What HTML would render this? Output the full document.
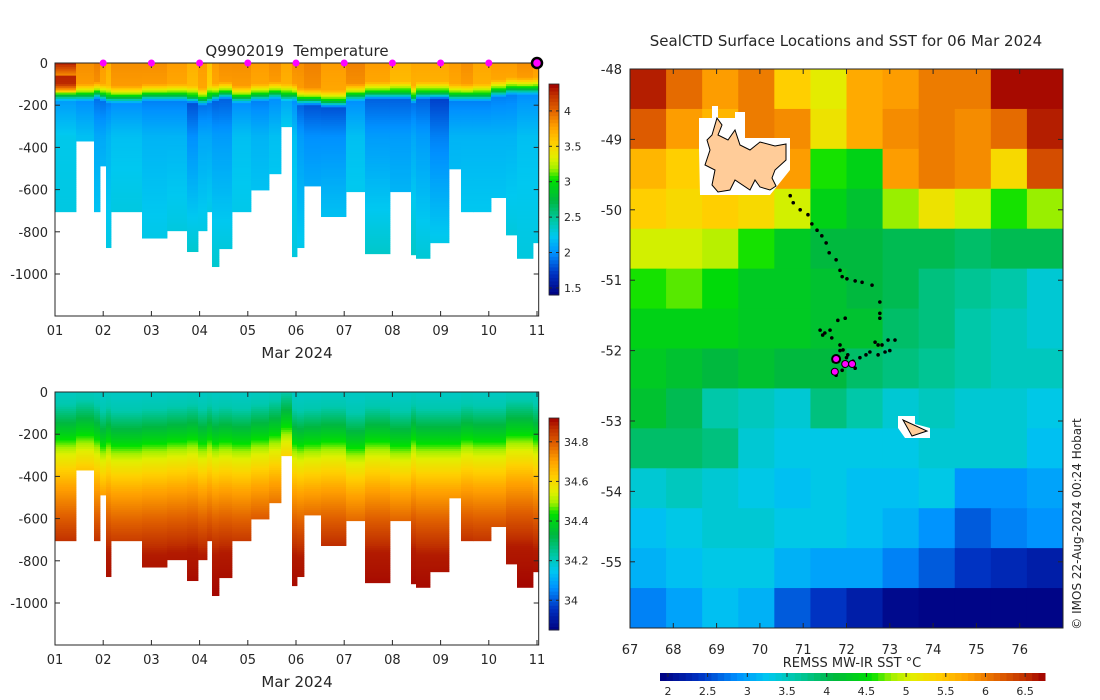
<!DOCTYPE html>
<html><head><meta charset="utf-8"><title>SealCTD</title>
<style>
html,body{margin:0;padding:0;background:#fff;}
svg{display:block;font-family:"DejaVu Sans","Liberation Sans",sans-serif;}
text{fill:#262626;}
</style></head>
<body>
<svg id="root" width="1100" height="700" viewBox="0 0 1100 700" xmlns="http://www.w3.org/2000/svg">
<g id="tempPlot"></g>
<g id="salPlot"></g>
<g id="mapPlot"></g>
<text x="297" y="56" font-size="15" text-anchor="middle">Q9902019&#160; Temperature</text>
<text x="846" y="46" font-size="15" text-anchor="middle">SealCTD Surface Locations and SST for 06 Mar 2024</text>
<text x="297" y="358" font-size="15" text-anchor="middle">Mar 2024</text>
<text x="297" y="687" font-size="15" text-anchor="middle">Mar 2024</text>
<text x="852" y="667" font-size="13" text-anchor="middle">REMSS MW-IR SST °C</text>
<text transform="translate(1081,524) rotate(-90)" font-size="12" text-anchor="middle">© IMOS 22-Aug-2024 00:24 Hobart</text>
</svg>
<script>
const castStart=[1.00,1.436,1.809,1.934,2.058,2.162,2.805,3.324,3.739,3.967,4.154,4.257,4.402,4.672,5.066,5.440,5.689,5.917,6.021,6.166,6.519,7.037,7.432,7.95,8.386,8.49,8.78,9.174,9.423,9.672,10.046,10.357,10.585,10.917];
const castDepth=[705,370,705,488,875,705,830,795,894,795,705,965,880,705,602,525,302,918,875,583,728,610,904,610,909,926,852,502,705,705,638,815,926,852];
const surfT=[4.3,3.85,3.9,3.8,3.7,3.85,3.85,3.8,3.7,3.8,3.6,3.8,3.85,3.85,3.8,3.85,3.75,3.85,3.85,3.9,3.8,3.9,3.8,3.7,3.75,3.75,3.75,3.8,3.85,3.75,3.8,3.8,3.85,3.8];
const mldDepth=[140,140,130,140,150,150,140,140,150,160,150,140,130,150,140,130,140,140,160,160,170,140,130,130,150,130,130,140,140,140,120,110,110,110];
const minT=[2.05,2.0,1.9,1.9,1.95,2.0,1.95,1.95,1.8,1.9,1.9,1.85,1.85,2.0,1.95,2.0,2.1,2.0,1.85,1.8,1.8,2.0,1.85,1.85,1.9,1.85,1.75,1.95,1.95,1.95,1.95,1.95,2.0,2.0];
const deepT=[2.3,2.3,2.3,2.35,2.3,2.35,2.3,2.35,2.4,2.35,2.4,2.35,2.35,2.3,2.3,2.3,2.3,2.3,2.3,2.3,2.35,2.3,2.4,2.3,2.4,2.35,2.35,2.25,2.3,2.3,2.3,2.35,2.3,2.3];
const salShift=[0,-20,0,30,10,30,20,10,0,20,0,20,10,20,0,-20,-60,20,30,20,10,40,10,30,0,20,20,20,0,10,10,-20,-20,0];
const salDepthPts=[0,60,200,300,450,600,750,1000];
const salValPts=[34.20,34.22,34.40,34.55,34.70,34.80,34.89,34.92];
const endDay=11.035;
const dayTicks=[1,2,3,4,5,6,7,8,9,10,11];
const depthTicks=[0,-200,-400,-600,-800,-1000];
const tempCbTicks=[1.5,2,2.5,3,3.5,4];
const salCbTicks=[34,34.2,34.4,34.6,34.8];
const markerDays=[2,3,4,5,6,7,8,9,10];
const sstGrid=[
[6.6,6.1,5.8,6.0,5.4,5.1,5.7,5.8,6.0,6.0,6.7,6.7],
[6.2,5.8,5.6,6.0,5.9,5.2,5.7,5.9,6.0,5.9,6.1,6.6],
[5.6,5.4,5.4,5.6,5.8,4.6,4.4,5.8,6.0,5.9,5.3,6.3],
[5.4,5.3,5.4,5.3,5.0,4.4,4.2,4.8,5.2,5.0,4.6,4.8],
[5.0,5.0,4.9,4.6,4.3,4.1,4.1,4.0,4.0,3.9,4.0,4.0],
[4.6,4.7,4.5,4.3,4.3,4.2,4.1,4.0,3.8,3.7,3.6,3.4],
[4.4,4.4,4.4,4.3,4.3,4.2,4.2,3.9,3.8,3.6,3.5,3.4],
[4.3,4.2,4.1,4.2,4.1,4.1,3.9,3.8,3.7,3.6,3.5,3.5],
[4.2,4.0,3.6,3.5,3.4,3.8,3.6,3.4,3.5,3.4,3.4,3.3],
[3.9,3.9,3.8,3.4,3.3,3.3,3.3,3.3,3.4,3.4,3.4,3.2],
[3.4,3.5,3.4,3.3,3.2,3.3,3.2,3.2,3.3,2.9,2.9,3.0],
[3.2,3.3,3.4,3.4,3.3,3.3,3.2,3.1,2.9,2.6,2.8,2.9],
[3.1,3.2,3.3,3.3,3.1,3.0,3.0,2.8,2.6,2.4,2.3,2.2],
[2.8,3.0,3.2,3.1,2.6,2.4,2.2,2.0,1.95,1.95,1.95,1.95]];
const trackLon=[70.70,70.77,70.93,71.11,71.20,71.32,71.43,71.53,71.60,71.76,71.85,71.90,72.01,72.20,72.36,72.59,72.77,72.77,72.77,72.73,72.45,72.31,71.39,71.50,71.62,71.80,71.97,71.66,71.85,71.92,72.03,72.08,72.20,71.90,71.76,72.66,72.82,72.96,73.12,73.0,72.89,72.73,72.54,71.45,71.7,72.0,72.15,71.95,71.85];
const trackLat=[-49.80,-49.90,-50.00,-50.07,-50.20,-50.29,-50.37,-50.47,-50.61,-50.71,-50.86,-50.95,-50.98,-51.01,-51.03,-51.07,-51.31,-51.47,-51.54,-51.92,-52.06,-52.10,-51.71,-51.75,-51.71,-51.57,-51.54,-51.82,-51.92,-51.99,-52.06,-52.20,-52.25,-52.28,-52.35,-51.88,-51.92,-51.85,-51.85,-52.0,-52.02,-52.06,-52.02,-51.78,-52.15,-52.1,-52.15,-52.22,-52.0];
const recentLon=[71.76,71.97,72.13,71.73];
const recentLat=[-52.12,-52.19,-52.19,-52.30];
const lonTicks=[67,68,69,70,71,72,73,74,75,76];
const latTicks=[-48,-49,-50,-51,-52,-53,-54,-55];
const sstTicks=[2,2.5,3,3.5,4,4.5,5,5.5,6,6.5];

const NS='http://www.w3.org/2000/svg';
function mk(tag,attrs,parent){const e=document.createElementNS(NS,tag);for(const k in attrs)e.setAttribute(k,attrs[k]);parent.appendChild(e);return e;}
const stops=[[0,[0,0,128]],[0.1,[0,48,192]],[0.2,[0,144,255]],[0.28,[0,200,240]],[0.35,[0,200,170]],[0.45,[0,184,64]],[0.55,[0,224,0]],[0.6,[160,240,0]],[0.65,[224,240,0]],[0.72,[255,208,0]],[0.8,[255,160,0]],[0.88,[224,96,0]],[0.95,[192,48,0]],[1,[160,0,0]]];
function cmap(f){f=Math.max(0,Math.min(1,f));for(let i=1;i<stops.length;i++){if(f<=stops[i][0]){const a=stops[i-1],b=stops[i];const t=(f-a[0])/(b[0]-a[0]);const c=a[1].map((v,j)=>Math.round(v+(b[1][j]-v)*t));return `rgb(${c[0]},${c[1]},${c[2]})`;}}return 'rgb(160,0,0)';}
function interp(z,xs,ys){if(z<=xs[0])return ys[0];for(let i=1;i<xs.length;i++){if(z<=xs[i]){return ys[i-1]+(ys[i]-ys[i-1])*(z-xs[i-1])/(xs[i]-xs[i-1]);}}return ys[ys.length-1];}

const xDay=d=>55+(d-1)*48.2;
function section(g,y0,valueAt,vmin,vmax,cbTop,cbBot,cbTicks,cbName,fmt){
  const yD=z=>y0+z*0.211;
  for(let i=0;i<castStart.length;i++){
    const x1=xDay(castStart[i]);const x2=xDay(i+1<castStart.length?castStart[i+1]:endDay);
    const step=10;
    for(let z=0;z<castDepth[i];z+=step){
      const v=valueAt(i,z+step/2);
      const r=mk('rect',{x:x1.toFixed(2),y:yD(z).toFixed(2),width:(x2-x1+0.4).toFixed(2),height:(Math.min(step,castDepth[i]-z)*0.211+0.4).toFixed(2),fill:cmap((v-vmin)/(vmax-vmin))},g);
      
      
    }
  }
  const bottom=y0+253;
  const frame=mk('rect',{x:55,y:y0,width:xDay(endDay)-55,height:bottom-y0,fill:'none',stroke:'#262626','stroke-width':1},g);
  
  dayTicks.forEach(d=>{const x=xDay(d);mk('line',{x1:x,y1:bottom,x2:x,y2:bottom-5,stroke:'#262626'},g);mk('line',{x1:x,y1:y0,x2:x,y2:y0+5,stroke:'#262626'},g);
    const t=mk('text',{x:x,y:bottom+19,'font-size':13,'text-anchor':'middle'},g);t.textContent=String(d).padStart(2,'0');
    });
  depthTicks.forEach(v=>{const y=yD(-v);const xr=xDay(endDay);mk('line',{x1:55,y1:y,x2:60,y2:y,stroke:'#262626'},g);mk('line',{x1:xr,y1:y,x2:xr-5,y2:y,stroke:'#262626'},g);
    const t=mk('text',{x:48,y:y+5,'font-size':13,'text-anchor':'end'},g);t.textContent=v===0?'0':'-'+Math.abs(v);
    });
  const cb=mk('g',{},g);
  const n=60;for(let k=0;k<n;k++){const f=(k+0.5)/n;mk('rect',{x:549,y:cbBot-(k+1)*(cbBot-cbTop)/n,width:10,height:(cbBot-cbTop)/n+0.5,fill:cmap(f)},cb);}
  mk('rect',{x:549,y:cbTop,width:10,height:cbBot-cbTop,fill:'none',stroke:'#262626','stroke-width':0.8},cb);
  cbTicks.forEach(v=>{const y=cbBot-(v-vmin)/(vmax-vmin)*(cbBot-cbTop);mk('line',{x1:549,y1:y,x2:552,y2:y,stroke:'#262626'},cb);mk('line',{x1:559,y1:y,x2:556,y2:y,stroke:'#262626'},cb);
    const t=mk('text',{x:564,y:y+4,'font-size':11},cb);t.textContent=fmt(v);});
}
function tempAt(i,z){const m=mldDepth[i];const s=surfT[i];
  if(i===0&&z<60) return 4.3-(z/60)*0.45;
  return interp(z,[0,m-40,m-10,m+10,m+40,350,1000],[s,s-0.05,s-0.55,2.9,minT[i],minT[i]+0.2,deepT[i]]);}
function salAt(i,z){return interp(z-salShift[i],salDepthPts,salValPts);}
section(document.getElementById('tempPlot'),63,tempAt,1.40,4.38,84,295,tempCbTicks,'temperature-colorbar',v=>String(v));
section(document.getElementById('salPlot'),392,salAt,33.85,34.92,418,630,salCbTicks,'salinity-colorbar',v=>String(v));
const tg=document.getElementById('tempPlot');
markerDays.forEach(d=>{const c=mk('circle',{cx:xDay(d),cy:63,r:3.5,fill:'#ff00ff'},tg);});
{const c=mk('circle',{cx:xDay(11),cy:63,r:5,fill:'#ff00ff',stroke:'#000','stroke-width':2.5},tg);}

const mg=document.getElementById('mapPlot');
const L=630,T=69,R=1063,B=628;
const xLon=lon=>630+(lon-67)*43.3;
const yLat=lat=>69+(-48-lat)*70.4;
const sMin=1.9,sMax=6.75;
const nr=sstGrid.length,nc=sstGrid[0].length;
const cw=(R-L)/nc,ch=(B-T)/nr;
for(let r=0;r<nr;r++)for(let c=0;c<nc;c++){
  const cell=mk('rect',{x:(L+c*cw).toFixed(2),y:(T+r*ch).toFixed(2),width:(cw+0.5).toFixed(2),height:(ch+0.5).toFixed(2),fill:cmap((sstGrid[r][c]-sMin)/(sMax-sMin))},mg);
  
  
}
{const w=mk('polygon',{points:'699,118 712,118 712,106 718,106 718,118 735,118 735,112 745,112 745,138 790,138 790,170 770,195 730,195 700,195 699,150',fill:'#fff'},mg);
const k=mk('polygon',{points:'717,118 722,125 718,135 728,140 735,130 740,145 750,150 760,142 775,146 786,144 786,160 775,170 772,178 776,186 770,190 760,187 755,180 750,190 735,180 730,190 718,192 712,185 715,170 705,165 710,150 707,140 712,135',fill:'#ffcc99',stroke:'#000','stroke-width':1},mg);
const hw=mk('polygon',{points:'898,416 915,416 915,424 930,428 930,438 905,438 898,428',fill:'#fff'},mg);
const h=mk('polygon',{points:'903,420 927,431 912,436',fill:'#ffcc99',stroke:'#000','stroke-width':1},mg);}
trackLon.forEach((lon,i)=>{const d=mk('circle',{cx:xLon(lon),cy:yLat(trackLat[i]),r:1.8,fill:'#000'},mg);});
recentLon.forEach((lon,i)=>{const d=mk('circle',{cx:xLon(lon),cy:yLat(recentLat[i]),r:i===0?4:3.5,fill:'#ff00ff',stroke:'#000','stroke-width':i===0?2:1},mg);});
{const f=mk('rect',{x:L,y:T,width:R-L,height:B-T,fill:'none',stroke:'#262626'},mg);}
lonTicks.forEach(v=>{const x=xLon(v);mk('line',{x1:x,y1:B,x2:x,y2:B-5,stroke:'#262626'},mg);mk('line',{x1:x,y1:T,x2:x,y2:T+5,stroke:'#262626'},mg);
  const t=mk('text',{x:x,y:654,'font-size':13,'text-anchor':'middle'},mg);t.textContent=v;});
latTicks.forEach(v=>{const y=yLat(v);mk('line',{x1:L,y1:y,x2:L+5,y2:y,stroke:'#262626'},mg);mk('line',{x1:R,y1:y,x2:R-5,y2:y,stroke:'#262626'},mg);
  const t=mk('text',{x:622,y:y+5,'font-size':13,'text-anchor':'end'},mg);t.textContent=v;});
{const cb=mk('g',{},mg);
const x0=660,x1=1045,n=60;
for(let k=0;k<n;k++)mk('rect',{x:x0+k*(x1-x0)/n,y:673,width:(x1-x0)/n+0.5,height:8,fill:cmap((k+0.5)/n)},cb);
sstTicks.forEach(v=>{const x=x0+(v-sMin)/(sMax-sMin)*(x1-x0);mk('line',{x1:x,y1:673,x2:x,y2:677,stroke:'#262626'},cb);
  const t=mk('text',{x:x,y:695,'font-size':11,'text-anchor':'middle'},cb);t.textContent=v;});}
</script>
</body></html>
